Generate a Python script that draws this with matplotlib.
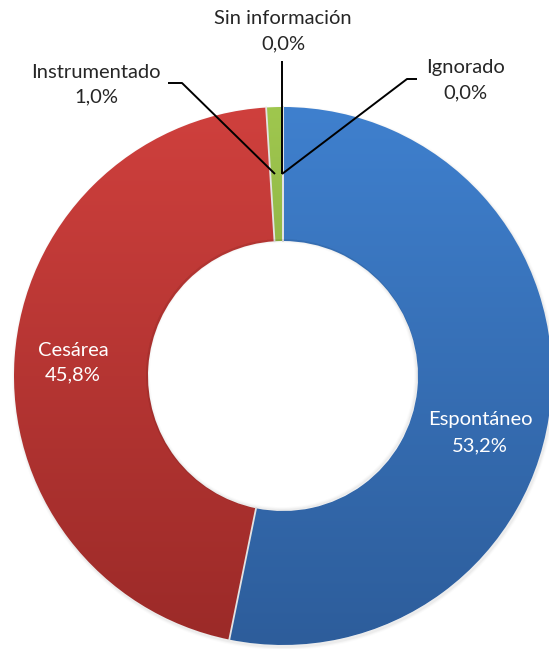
import numpy as np
import matplotlib.pyplot as plt
from matplotlib.patches import Wedge
from matplotlib.colors import to_rgb

plt.rcParams['font.family'] = ['Lato', 'DejaVu Sans']

# data
categories = ['Espontáneo', 'Cesárea', 'Instrumentado', 'Sin información', 'Ignorado']
shares = [53.2, 45.8, 1.0, 0.0, 0.0]

# colours: lighter at the top of the ring, darker at the bottom
top_colors = ['#3f80ce', '#cf403d', '#9fc74e', '#a0a0a0', '#a0a0a0']
bottom_colors = ['#2d5d9b', '#9b2a28', '#73903a', '#707070', '#707070']

# layout (pixel coordinates, y downwards)
W, H = 549, 649
cx, cy = 283, 376
r_out, r_in = 269, 135

label_pos = {
    'Espontáneo': (480, 420, 446),
    'Cesárea': (73, 350, 375),
    'Instrumentado': (96, 72, 97),
    'Sin información': (283, 19, 44),
    'Ignorado': (465, 68, 93),
}
inside = ['Espontáneo', 'Cesárea']
leaders = {
    'Instrumentado': ([168, 182, 275], [83, 83, 174]),
    'Sin información': ([282, 282], [61, 174]),
    'Ignorado': ([417, 407, 282], [79, 79, 174]),
}


def fmt_pct(v):
    return f"{v:.1f}%".replace('.', ',')


fig = plt.figure(figsize=(W / 100, H / 100), dpi=100)
ax = fig.add_axes([0, 0, 1, 1])

# faint soft shadow outside the ring
for k, a in [(3, 0.015), (2, 0.025), (1, 0.035)]:
    ax.add_patch(Wedge((cx + 1, cy + 2), r_out + k, 0, 360, width=k + 2,
                       facecolor='black', edgecolor='none', alpha=a))
# faint shadow on the rim of the hole
for k, a in [(3, 0.015), (2, 0.025), (1, 0.035)]:
    ax.add_patch(Wedge((cx - 1, cy - 1), r_in + 1, 0, 360, width=k + 1,
                       facecolor='black', edgecolor='none', alpha=a, zorder=4))

# y axis is inverted, so counterclockwise in data = clockwise on screen
wedges, _ = ax.pie(shares, startangle=-90, counterclock=True, radius=r_out,
                   center=(cx, cy), frame=True,
                   wedgeprops=dict(width=r_out - r_in, edgecolor='none', linewidth=0))

for w, c0, c1 in zip(wedges, top_colors, bottom_colors):
    w.set_facecolor('none')
    w.set_zorder(3)
    grad = np.linspace(0, 1, 256)[:, None, None]
    img = (1 - grad) * np.array(to_rgb(c0)) + grad * np.array(to_rgb(c1))
    im = ax.imshow(img, extent=(cx - r_out, cx + r_out, cy + r_out, cy - r_out),
                   origin='upper', aspect='auto', interpolation='bicubic', zorder=2)
    im.set_clip_path(w)

# light separators between slices (radial lines only)
bounds = np.cumsum([0] + shares[:-1]) / sum(shares) * 2 * np.pi
for t in np.unique(np.round(bounds, 6)):
    xs = [cx + r_in * np.sin(t), cx + r_out * np.sin(t)]
    ys = [cy - r_in * np.cos(t), cy - r_out * np.cos(t)]
    ax.plot(xs, ys, color='#e3e3e3', linewidth=1.3, zorder=3.5)

for name, v in zip(categories, shares):
    x, y1, y2 = label_pos[name]
    col = 'white' if name in inside else '#262626'
    ax.text(x, y1, name, ha='center', va='center', fontsize=14.5, color=col, zorder=5)
    ax.text(x, y2, fmt_pct(v), ha='center', va='center', fontsize=14.5, color=col, zorder=5)

for name, (xs, ys) in leaders.items():
    ax.plot(xs, ys, color='black', linewidth=1.4, zorder=4, solid_capstyle='butt')

ax.set_xlim(0, W)
ax.set_ylim(H, 0)
ax.set_aspect('equal')
ax.axis('off')

fig.savefig('out.png', dpi=100)
